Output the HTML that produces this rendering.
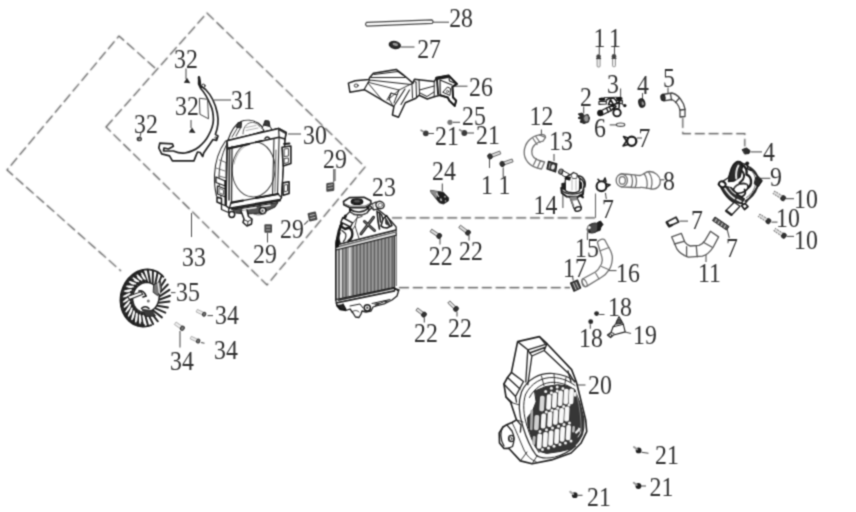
<!DOCTYPE html>
<html><head><meta charset="utf-8"><title>Cooling system parts diagram</title>
<style>
html,body{margin:0;padding:0;background:#fff;}
body{width:856px;height:512px;overflow:hidden;font-family:"Liberation Serif",serif;}
svg{display:block}
text{font-family:"Liberation Serif",serif;font-size:28px;fill:#303030;stroke:none;}
.d{stroke:#484848;stroke-width:1.15;stroke-dasharray:10 3.8;fill:none}
.l{stroke:#4a4a4a;stroke-width:1.05;fill:none}
.p{stroke:#1e1e1e;stroke-width:1.3;fill:none;stroke-linejoin:round;stroke-linecap:round}
.pw{stroke:#1e1e1e;stroke-width:1.3;fill:#fff;stroke-linejoin:round;stroke-linecap:round}
.t{stroke:#444;stroke-width:0.7;fill:none;stroke-linejoin:round;stroke-linecap:round}
.k{fill:#222;stroke:none}
</style></head><body>
<svg width="856" height="512" viewBox="0 0 856 512">
<defs><filter id="bd" x="0" y="0" width="856" height="512" filterUnits="userSpaceOnUse" color-interpolation-filters="sRGB"><feConvolveMatrix order="3" kernelMatrix="0.0169 0.0962 0.0169 0.0962 0.5476 0.0962 0.0169 0.0962 0.0169" divisor="1" edgeMode="duplicate" preserveAlpha="false"/></filter><filter id="b" x="0" y="0" width="856" height="512" filterUnits="userSpaceOnUse" color-interpolation-filters="sRGB"><feConvolveMatrix order="3" kernelMatrix="0.0400 0.1200 0.0400 0.1200 0.3600 0.1200 0.0400 0.1200 0.0400" divisor="1" edgeMode="duplicate" preserveAlpha="false"/></filter></defs>
<rect width="856" height="512" fill="#fff"/>
<g filter="url(#b)">

<g class="d" filter="url(#bd)">
<path d="M106,127 L207,13 L365,167 L267,285 Z"/>
<path d="M155,68 L119,36 L7,170 L121,271"/>
<path d="M392,217.8 H595"/>
<path d="M399,287.6 H570"/>
<path d="M682.8,118 V133.6 H744.8 V146.5"/>
</g>
<!-- ===== leader lines ===== -->
<g class="l">
<path d="M186,68.5V79"/><path d="M191,120V128"/><path d="M141,132L140,137"/>
<path d="M231,100H214"/>
<path d="M301,134H288"/>
<path d="M335,169V181"/>
<path d="M191.5,213V237"/>
</g>
<!-- ===== 32 screws ===== -->
<g class="k">
<path d="M183.8,82.8 L187,77.8 L190.4,83.2 Z" fill="#2a2a2a"/>
<path d="M188.8,132.6 L192,127.5 L195.6,133 Z" fill="#2a2a2a"/>
<ellipse cx="139.3" cy="139" rx="2.7" ry="2.3" fill="#3a3a3a"/>
<ellipse cx="139.6" cy="139.2" rx="1.1" ry="0.9" fill="#aaa"/>
</g>
<!-- ===== 31 bracket ===== -->
<g class="p" style="stroke-width:1.7;stroke:#222">
<path d="M198.8,76.8 L200.3,85.6 L205.6,89.5 C211,95 215.4,104 217.3,113 C218.8,121 218,128 215.4,134.4 L218,136 L216.5,140.5 L213,139.5 C211,142 210,144 208.5,146 L203.7,153 L202.7,156.5 L200.2,152.5 L197.5,152 L195.9,155.9 L193.9,160.9 L172.4,160.9 L169.5,155.9 L161.7,153.9 L158.8,148 L159.8,143.2 L172.4,143.8 L173.4,146.3 L168.5,149 L164,148 L163.5,151 L173.4,151 C178,153 182,153.5 185,153 C190,152 195,150 198.8,147 C203,143.5 206.5,139.5 208.5,135.4 C211.5,130 213.4,125 213.4,119.8 C213.4,114 212.5,109 210.5,105 C208,99 205,93 200.7,88.5 L198.6,84 Z"/>
<path d="M199,77.5 L200,84.5" style="stroke-width:2.6"/>
<path d="M199.8,98.3 L207.6,99.3 L208.5,118.8 L200.3,114.5 Z" style="stroke-width:1;stroke:#444"/>
<circle cx="203.4" cy="85.8" r="1.7" style="stroke-width:1"/>
<circle cx="215.8" cy="137.8" r="1" style="stroke-width:0.8"/>
</g>
<!-- ===== 30 fan shroud ===== -->
<g class="p" style="stroke-width:1.2;stroke:#2a2a2a">
<!-- back housing left arcs -->
<path d="M225.5,141 C219,150 215,163 214.5,175 C214.2,184 215,190 216.5,196" style="stroke-width:1.1"/>
<path d="M229,140 C223,150 219.5,163 219,176 C218.8,184 219.5,191 221,197" style="stroke-width:1"/>
<path d="M216,168 L225,171 M215,180 L224,182.5" style="stroke-width:0.9;stroke:#666"/>
<path d="M219.5,160 L226,162.5 L226,178 L219,176" style="stroke-width:0.9;stroke:#555"/>
<!-- dome -->
<path class="pw" d="M228,140 C231,131 236,124 241,121.5 C246,119.5 253,120 258,123 C261,125 263,128 264,131 L229,141.5 Z" style="stroke-width:1.1"/>
<path d="M243,134 C243,128 246,123.5 251,122.5 C255,122 258,124 260,127" style="stroke-width:0.9;stroke:#555"/>
<path d="M246,127.5 L256,125.5 M246,130.5 L258,128" style="stroke-width:0.8;stroke:#999"/>
<path d="M232,137 L238,127 M236,136 L241,127" style="stroke-width:0.9"/>
<!-- top lugs dark -->
<path d="M236.5,127 L238,122.5 L241.5,122.5 L241,127.5 Z" fill="#3a3a3a" stroke="#222" stroke-width="1"/>
<path d="M263.5,125 L265,120.5 L269,121 L270,126.5 L266,127.5 Z" fill="#3a3a3a" stroke="#222" stroke-width="1"/>
<path class="pw" d="M262,128.5 L263.5,125 L270,126.5 L272,129.5" style="stroke-width:1"/>
<!-- frame body -->
<path class="pw" d="M227,140.7 L278.6,128.4 L286.2,132.5 L285,139 L281.5,197.5 L280.3,199.3 L229.3,208.1 L226,206 Z" style="stroke-width:1.3"/>
<!-- circle opening -->
<ellipse cx="253.6" cy="169.3" rx="21.4" ry="27.6" transform="rotate(3 253.6 169.3)" style="stroke-width:1;stroke:#444"/>
<path d="M234,164 C236,154 242,146 251,143.5" style="stroke-width:0.8;stroke:#999"/>
<!-- top bar -->
<path class="pw" d="M227,140.7 L278.6,128.4 L286.2,132.5 L285,139 L279.1,137.2 L227.6,148.4 Z" style="stroke-width:1.5"/>
<path d="M278.6,128.4 L279.1,137.2 M279.5,130 L285.5,133.5" style="stroke-width:1.2"/>
<path d="M227.6,148.6 L249,144" style="stroke-width:2.2;stroke:#1a1a1a"/>
<path d="M256,142 L262,140.8 M265,138.5 C266,136.5 268.5,136.5 269.5,138.3" style="stroke-width:1.5;stroke:#1a1a1a"/>
<!-- left column -->
<path d="M232,146.5 L231.5,203 M227.3,147 L226,206" style="stroke-width:1.3"/>
<path d="M229.5,149 L229,200" style="stroke-width:1.6;stroke:#333"/>
<!-- right column -->
<path d="M274,138.5 L272.5,195.5 M279.1,137.2 L277.5,194.5 M285,139 L281.5,197.5" style="stroke-width:1.1"/>
<path d="M276,150 L275,192" style="stroke-width:1.2;stroke:#777"/>
<!-- bottom bar -->
<path class="pw" d="M231.1,202.8 L278,194 L281.5,197.5 L280.3,199.3 L229.3,208.1 Z" style="stroke-width:1.3"/>
<path d="M231.5,202.6 L243,200.5 M256,198 L278,194" style="stroke-width:2.2;stroke:#1a1a1a"/>
<path d="M232,209 L280,200.5" style="stroke-width:2;stroke:#222"/>
<!-- right lugs -->
<path class="pw" d="M282,147.2 L290.9,146 L290.9,163.6 L283.2,165.9 Z" style="stroke-width:1.6;stroke:#1a1a1a"/>
<path d="M284.5,149 L288.5,148.5 L288.5,156 L284.5,156.5 Z M284.5,158.5 L288.5,158 L288.5,162.5 L284.5,163.5 Z" style="stroke-width:1;stroke:#444"/>
<path class="pw" d="M282.7,182.9 L289.1,181.7 L289.1,193.4 L283.2,195.2 Z" style="stroke-width:1.6;stroke:#1a1a1a"/>
<path d="M284.5,185 L287.5,184.5 L287.5,191 L284.5,191.8 Z" style="stroke-width:1;stroke:#444"/>
<path d="M284,144 L289.5,143.5" style="stroke-width:1.8;stroke:#1a1a1a"/>
<!-- left lower lugs -->
<path class="pw" d="M216,177 L225.2,181 L225.2,186 L216,182.5 Z" style="stroke-width:1.3"/>
<path class="pw" d="M217.5,186 L225.5,189 L225.5,197 L217.5,194 Z" style="stroke-width:1.3"/>
<path d="M219.5,188.5 L223.5,190 L223.5,194.5 L219.5,193 Z" style="stroke-width:0.9;stroke:#555"/>
<path class="pw" d="M217,197 L221.5,198.5 L221.5,204 L217,202 Z" style="stroke-width:1.5;stroke:#1a1a1a"/>
<path class="pw" d="M221.5,204 L226,206 L229,208.2 L228.5,212.5 L221.5,209.5 Z" style="stroke-width:1.3"/>
<path d="M225.5,181 L225.5,205" style="stroke-width:2;stroke:#1a1a1a"/>
<!-- bottom feet -->
<path d="M233,210 L278,202.5 L275,207 L262,213 L246,214 L236,213 Z" fill="#555" stroke="#222" stroke-width="1"/>
<path d="M243,209.5 L256,207.5 M262,206.5 L270,205.2" stroke="#eee" stroke-width="1.6"/>
<circle cx="231.8" cy="214.5" r="2.9" class="pw" style="stroke-width:1.5;stroke:#1a1a1a"/>
<circle cx="262.7" cy="210.6" r="3.2" class="pw" style="stroke-width:1.5;stroke:#1a1a1a"/>
<circle cx="262.5" cy="210.8" r="1.2" fill="#555" stroke="none"/>
<path class="pw" d="M241,211 L244,219 L243,222.5 L247,226 L251.5,224 L252,219 L248.5,216.5 L247,210" style="stroke-width:1.5;stroke:#1a1a1a"/>
<path d="M243.5,219.5 L248,221.5 L251.5,219.5 M248,221.5 L247.5,225.5" style="stroke-width:1;stroke:#333"/>
<path d="M252,213 C256,216 264,216 268,210" style="stroke-width:0.9;stroke:#555"/>
</g>
<!-- ===== 29 nuts ===== -->
<g>
<g transform="translate(330.3,187)"><rect x="-4" y="-4.3" width="8" height="8.6" rx="1" fill="#484848" transform="skewY(-8)"/><path d="M-2.5,-1.5 L2.5,-2.3 M-2.5,1.5 L2.5,0.7" stroke="#ccc" stroke-width="0.9"/></g>
<g transform="translate(312.5,216.5) rotate(-12)"><rect x="-4.3" y="-4.3" width="8.6" height="8.6" rx="1" fill="#484848"/><path d="M-2.5,-1.5 L2.5,-1.5 M-2.5,1.5 L2.5,1.5" stroke="#ccc" stroke-width="0.9"/></g>
<g transform="translate(268.2,228.5)"><rect x="-3.8" y="-4.3" width="7.6" height="8.6" rx="1" fill="#484848"/><path d="M-2.2,-1.5 L2.2,-1.5 M-2.2,1.5 L2.2,1.5" stroke="#ccc" stroke-width="0.9"/></g>
</g>
<g class="l">
<path d="M333.8,169V182"/><path d="M308.3,220.6L304.2,224.7"/><path d="M267.5,233V242.5"/>
<path d="M171,292.6H175.5"/>
<path d="M207.5,315.6H213"/><path d="M180,331V347.5"/><path d="M201,342.5L204.5,343.2"/>
</g>
<!-- ===== 34 screws ===== -->
<g class="p" style="stroke-width:1">
<g transform="translate(203,313.6) rotate(25)"><rect x="-6.5" y="-1.4" width="7" height="2.8" fill="#eee" stroke="#999" stroke-width="0.7"/><ellipse cx="1.3" cy="0" rx="1.6" ry="2" fill="#777" stroke="#333"/></g>
<g transform="translate(181.3,327.5) rotate(35)"><rect x="-7" y="-1.5" width="7" height="3" fill="#eee" stroke="#999" stroke-width="0.7"/><ellipse cx="1.3" cy="0" rx="1.8" ry="2.2" fill="#777" stroke="#333"/></g>
<g transform="translate(197,340.5) rotate(25)"><rect x="-6.5" y="-1.4" width="7" height="2.8" fill="#eee" stroke="#999" stroke-width="0.7"/><ellipse cx="1.3" cy="0" rx="1.6" ry="2" fill="#777" stroke="#333"/></g>
</g>
<!-- ===== 28 rod, 27 nut ===== -->
<g class="p">
<path class="pw" d="M366.5,22.4 L432,19.9 Q434,21.6 432.2,23.4 L366.7,26.1 Q364.6,24.3 366.5,22.4 Z" style="stroke:#444;stroke-width:1.2"/>
<ellipse cx="394.8" cy="45" rx="5.6" ry="3.4" fill="#2c2c2c" stroke="#222" transform="rotate(12 394.8 45)"/>
<ellipse cx="395.3" cy="44.3" rx="2.8" ry="1.4" fill="#999" stroke="none" transform="rotate(12 395 44.3)"/>
</g>
<g class="l"><path d="M433,22.2H449"/><path d="M400.5,47H414.5"/><path d="M455,86.2H467.5"/><path d="M453,122.3H460"/>
<path d="M428.5,133.5H434"/><path d="M467,133H474"/></g>
<!-- ===== 26 bracket ===== -->
<g class="p" style="stroke-width:1.2">
<path class="pw" style="stroke-width:1.5" d="M348.4,83.1 L349.9,92.2 L364.3,89.7 L385.6,102.1 L393.9,106.6 L392.4,115 L398.5,117.3 L405.3,102.8 L415.9,98.3 L419,95.2 L427.3,99 L434.2,96.8 L440.2,95.2 L447.8,97.5 L449.3,100.6 L454.7,105.9 L456.2,100.6 L453.1,97.5 L452.4,86.9 L456.9,83.9 L448.6,75.5 L436.4,77.8 L434.2,81.6 L414.4,79.3 L412.9,83.1 L406.8,77.8 L403,74.7 L396.2,69.4 L373.4,73.2 L369.6,77.8 L368.9,79.5 L355.2,80.8 Z"/>
<ellipse cx="356.2" cy="85.6" rx="2" ry="1.6" style="stroke-width:0.9"/>
<path d="M369.6,80 L364.3,89.2 M369.6,80 L411,84.5 M371,77.5 L405,77.5 M374,74.5 L398,71.5 L403,75" />
<path d="M368,83 L383,101 M369,82.5 L399,90 L412.9,83.1 M399,90 L389,99 L393,106" style="stroke-width:0.9"/>
<path d="M387,100 L391,93 L397,95 L399,90 M391,93 L389,100 M397,95 L394,103" style="stroke-width:1"/>
<path d="M405,89 L394,106 M409.5,90 L401,104.5" style="stroke-width:1.1"/>
<path d="M412,84 L412.5,98 M416,82 L416.5,97 M412,84 C413,81.5 415,81 416,82" style="stroke-width:1"/>
<path d="M419,80 L419.5,95 M434.2,81.6 L434.2,96.8 M420,93 L427,96.5 L434,92 M419.5,90 L434.2,86" style="stroke-width:1"/>
<path d="M437,79 L438,94 M440,80 L452,85 M440,80 L440.2,95.2 M448.6,75.5 L449.5,81 L456.9,83.9" style="stroke-width:1.2"/>
<path d="M443,92 L447.5,87 L450.5,88.5 L450,95 Z" style="stroke-width:1"/>
<circle cx="447.5" cy="91.5" r="1.1" style="stroke-width:0.8"/>
<path d="M436.4,77.8 L448.6,75.5 L456.9,83.9 L452.4,86.9 L453.1,97.5 L456.2,100.6 L454.7,105.9 L449.3,100.6 L447.8,97.5 L440.2,95.2" style="stroke-width:2;stroke:#1a1a1a"/>
<path d="M436.4,77.8 L437,79 L448,77 M437,79 L438,94" style="stroke-width:1.8;stroke:#1a1a1a"/>
</g>
<!-- ===== 25, 21 bolts ===== -->
<g>
<circle cx="450" cy="122.3" r="2.6" fill="#777"/>
<circle cx="425.8" cy="133.3" r="2.9" fill="#3a3a3a"/><path d="M420.5,130 L424,132" stroke="#888" stroke-width="1.6"/>
<circle cx="464.3" cy="133" r="2.9" fill="#3a3a3a"/><path d="M459,129.5 L462.5,131.5" stroke="#888" stroke-width="1.6"/>
</g>
<!-- ===== 24 sensor ===== -->
<g class="l"><path d="M442.3,183.5V191.5"/>
<path d="M489.5,159V168"/><path d="M503.2,167.5V177"/>
<path d="M440,238V244.5"/><path d="M469,235V240.5"/><path d="M424.3,317.5V322.5"/><path d="M457,311.5V316.5"/>
</g>
<g>
<path d="M430.5,190.3 L443.4,192.3 L448.7,198 L448.3,201 L443.4,204 L439.3,202.8 L431.1,192.5 Z" fill="#1e1e1e" stroke="#222" stroke-width="0.8" stroke-linejoin="round"/>
<path d="M430.5,190.3 L438,191.5 L436.5,198.5 L431.1,192.5 Z" fill="#8a8a8a" stroke="none"/>
<path d="M436.5,193 L438.8,197" stroke="#ccc" stroke-width="1.5"/>
<path d="M440.5,198.5 L441.5,201" stroke="#bbb" stroke-width="1.8"/>
<path d="M444.5,196 L445.5,197.5 M445,200.5 L446,201.5" stroke="#aaa" stroke-width="1.4"/>
</g>
<!-- ===== bolts 1 ===== -->
<g>
<g transform="translate(490,156.4) rotate(-21)"><rect x="1" y="-1.5" width="10" height="3" fill="#ddd" stroke="#555" stroke-width="0.8"/><ellipse cx="0" cy="0" rx="2.2" ry="2.7" fill="#333" stroke="#222" stroke-width="0.8"/></g>
<g transform="translate(502.2,164) rotate(-19)"><rect x="1" y="-1.5" width="10" height="3" fill="#ddd" stroke="#555" stroke-width="0.8"/><ellipse cx="0" cy="0" rx="2.2" ry="2.7" fill="#333" stroke="#222" stroke-width="0.8"/></g>
</g>
<!-- ===== bolts 22 ===== -->
<g>
<g transform="translate(439.2,236) rotate(214)"><rect x="1" y="-1.5" width="9" height="3" fill="#ddd" stroke="#555" stroke-width="0.8"/><ellipse cx="0" cy="0" rx="2.2" ry="2.7" fill="#333" stroke="#222" stroke-width="0.8"/></g>
<g transform="translate(468,232.7) rotate(217)"><rect x="1" y="-1.5" width="9.5" height="3" fill="#ddd" stroke="#555" stroke-width="0.8"/><ellipse cx="0" cy="0" rx="2.2" ry="2.7" fill="#333" stroke="#222" stroke-width="0.8"/></g>
<g transform="translate(424,314.6) rotate(217)"><rect x="1" y="-1.5" width="8" height="3" fill="#ddd" stroke="#555" stroke-width="0.8"/><ellipse cx="0" cy="0" rx="2.2" ry="2.7" fill="#333" stroke="#222" stroke-width="0.8"/></g>
<g transform="translate(456,308.9) rotate(224)"><rect x="1" y="-1.5" width="9" height="3" fill="#ddd" stroke="#555" stroke-width="0.8"/><ellipse cx="0" cy="0" rx="2.2" ry="2.7" fill="#333" stroke="#222" stroke-width="0.8"/></g>
</g>
<!-- ===== hose 12, clamp 13, pump 14, clamps 7, hose 8 ===== -->
<g class="l">
<path d="M541.4,129.5V136"/><path d="M554,154V161"/><path d="M562.9,193.5V208"/>
<path d="M595.5,217.8V193.5" style="stroke:#666;stroke-width:1.1"/><path d="M605.4,192.8L606.3,199"/>
<path d="M659.5,179.8H664.5"/>
<path d="M583.7,106.5V113.4"/><path d="M620.6,88.5V97"/><path d="M642.5,93V99.5"/><path d="M668,87.5V94"/>
<path d="M609.7,124.9H616.5"/><path d="M637,138H642"/>
<path d="M599.3,47V54.5M614.5,47V54.2"/>
</g>
<g class="p" style="stroke:#707070;stroke-width:1.25">
<!-- hose 12 -->
<path class="pw" style="stroke:#707070" d="M539.5,134.8 C531,136 524.5,143 524.2,152 C524,160 530,166.5 538.5,168.3 L541.5,169 L544.6,162 L541,161 C535,159.5 531.5,156.5 531.8,151.5 C532,146 536.5,142 543,141.2 L545.5,137.5 Z"/>
<path d="M539.5,134.8 C543,133.5 546,135.5 545.5,137.5 M533,138.5 L537,144.5 M535.8,136.5 L540,142.5 M533.5,165 L536.5,158.8 M537.5,167.8 L540.5,160.8"/>
</g>
<g class="p">
<!-- clamp 13 -->
<path d="M548.5,161.3 L556.8,163.8 L555.6,172 L547,168.8 Z" fill="#3a3a3a" stroke="#1e1e1e" stroke-width="1.3"/>
<ellipse cx="553" cy="167" rx="1.8" ry="2.6" fill="#eee" stroke="none" transform="rotate(15 553 167)"/>
<path d="M550,163.5 L549,168.5" stroke="#bbb" stroke-width="0.9"/>
<!-- pump 14 -->
<ellipse cx="561" cy="171.6" rx="2.3" ry="2.6" fill="#888" stroke="#333" stroke-width="1" transform="rotate(25 561 171.6)"/>
<path class="pw" d="M563.3,170.8 L569.5,174.2 L567.5,178.5 L562,175 Z" style="stroke-width:1"/>
<path class="pw" d="M565.2,181 C565.2,177.5 568,175 571,174.5 L573.5,172.5 L577,174 L577.5,176 C579.5,177.5 580.2,179.5 579.8,181.5 L579.5,190.5 C577,193.5 568.5,193.5 565.2,190.5 Z" style="stroke-width:1.3;stroke:#222"/>
<path d="M565.5,178.5 L569.5,179.5 M566,177 L570,177.8" style="stroke-width:2;stroke:#1a1a1a"/>
<path d="M571,175 L572.5,178.5 L576.5,178.5 L577.3,175.5" style="stroke-width:1;stroke:#555"/>
<path d="M572,180 L572,190 M576,180 L576,190" style="stroke-width:0.9;stroke:#aaa"/>
<path d="M580,178.5 C583.5,180 585,184 583.5,188 M578.5,175.8 C583.5,176.5 586.5,181.5 584.8,187" style="stroke-width:1.4;stroke:#222"/>
<path d="M579.5,181.5 L581.5,183 L581.5,188 L579.5,189" fill="#222" style="stroke-width:1.2;stroke:#1a1a1a"/>
<path d="M562,183.5 L565,183 L565,189.5 L562,189 Z" fill="#222" style="stroke-width:1.2;stroke:#1a1a1a"/>
<path d="M561.2,188 L561.8,193 L566.5,196.5 L577.5,197 L583,194 L583.5,189" style="stroke-width:2;stroke:#1e1e1e" fill="none"/>
<path d="M562.5,191 C567,195 578,195 583,191" style="stroke-width:1.5;stroke:#2a2a2a"/>
<path d="M580,195.5 L583,197.5 L582,194.5" style="stroke-width:1.8;stroke:#1a1a1a"/>
<path d="M569.8,197 L574,208.5 C575.5,211.5 580.5,210.5 581.5,207.5 L576.5,196.5 Z" fill="#fff" style="stroke-width:1.3;stroke:#2a2a2a"/>
<path d="M569.8,197 L576.5,196.5 L577.5,200 L571,201 Z" fill="#888" stroke="none"/>
<path d="M571,199.5 L573.5,206" style="stroke-width:1.6;stroke:#777"/>
<ellipse cx="578" cy="209" rx="3.3" ry="2.1" transform="rotate(-18 578 209)" fill="#fff" style="stroke-width:1.5;stroke:#222"/>
<!-- clamp 7 (lower) -->
<circle cx="601.5" cy="186.2" r="4.9" style="stroke-width:2.1;stroke:#1c1c1c"/>
<path d="M603.5,181.2 L605,178 L606,181.8 M606.2,184 L610,184.8 L606.5,187.2 M599.5,181 L598,179.3" style="stroke-width:1.6;stroke:#1c1c1c"/>
<!-- hose 8 -->
</g>
<g class="p" style="stroke:#6c6c6c;stroke-width:1.25">
<path class="pw" style="stroke:#6c6c6c" d="M621,174 C630,174 636,175.5 640,175.5 C643,175.5 645,171.5 649.5,171.5 C655,171.5 660,176 660.3,181 C660.5,186 657,189.5 652,189 C647,188.5 644,187 640,187.5 C634,188 628,187 621,186.8 Z"/>
<ellipse class="pw" style="stroke:#6c6c6c" cx="621.8" cy="180.4" rx="5.6" ry="6.4"/>
<ellipse cx="622.3" cy="180.4" rx="3" ry="3.8"/>
<path d="M631,174.8 C633,178 633,184 631,187.3 M635,175.2 C637,178.5 637,184 635,187.6 M644,173.5 C647,177 648,184 646.5,188 M648.5,171.8 C652,176 653,183 651,188.8"/>
</g>
<!-- ===== 2,3,4,6,7 thermostat group ===== -->
<g class="p">
<path d="M578.5,114 L582,113 L584,115.5 L588,114.5 L589.5,118 L588.5,122 L584,123.5 L580,122 L581.5,119.5 L578,118 L580.5,116.5 Z" fill="#2a2a2a" stroke="#222" stroke-width="1"/>
<ellipse cx="586.3" cy="118.5" rx="2.6" ry="3.4" fill="#999" stroke="#444" stroke-width="0.8"/>
<!-- part 3 -->
<ellipse cx="602" cy="99.2" rx="3.3" ry="1.6" fill="#111" stroke="none"/>
<ellipse cx="619.2" cy="98.4" rx="3.3" ry="1.6" fill="#111" stroke="none"/>
<path d="M604,97.6 L617,97.2" style="stroke-width:1;stroke:#333"/>
<path d="M599,101.5 L606.3,101.2 L606.3,104 L599,104.3 Z" fill="#fff" style="stroke-width:1.2;stroke:#222"/>
<path d="M616.3,100.6 L622.3,100.3 L622.3,103.4 L616.6,103.7 Z" fill="#fff" style="stroke-width:1.2;stroke:#222"/>
<path d="M606.5,100 L609.5,98.2 L613.5,98 L616,100.5" style="stroke-width:1.5;stroke:#1a1a1a"/>
<path d="M608.5,104.5 L610.5,99.5 L613.5,104.8 Z" fill="#fff" style="stroke-width:1.7;stroke:#1a1a1a"/>
<path d="M613.5,104.8 L616.5,103.5 L619.5,101.8" style="stroke-width:1.6;stroke:#1a1a1a"/>
<path d="M619.5,101 L619,108" style="stroke-width:1.5;stroke:#1a1a1a"/>
<path d="M612.8,105.2 L600.4,111 L602.3,115 L614.8,108.6 Z" fill="#fff" style="stroke-width:1.3;stroke:#1a1a1a"/>
<path d="M606.5,108.2 L608.3,112 M609.3,106.8 L611.2,110.6" style="stroke-width:1.5;stroke:#222"/>
<path d="M613,104.5 L616,106.5 L612.5,109" style="stroke-width:1.6;stroke:#1a1a1a"/>
<ellipse cx="600.2" cy="113" rx="2.7" ry="2.9" fill="#1a1a1a" stroke="#111" stroke-width="0.8"/>
<circle cx="617" cy="112.7" r="3.7" fill="#fff" style="stroke-width:1.9;stroke:#161616"/>
<circle cx="624.8" cy="105.6" r="1.7" fill="#1a1a1a" stroke="none"/>
<path d="M621.5,103.5 L623.5,105" style="stroke-width:1.2;stroke:#444"/>
<!-- part 4 plug -->
<ellipse cx="641.8" cy="103" rx="2.9" ry="4.2" fill="#333" stroke="#1a1a1a" stroke-width="1.2" transform="rotate(-15 641.8 103)"/>
<ellipse cx="642.8" cy="103.4" rx="1.1" ry="2" fill="#999" stroke="none" transform="rotate(-15 642.8 103.4)"/>
<!-- o-ring 6 -->
<ellipse cx="620.6" cy="124.7" rx="4.2" ry="1.7" style="stroke-width:1.1;stroke:#444"/>
<!-- clamp 7 (upper) -->
<circle cx="631.7" cy="141.2" r="4.6" style="stroke-width:2.3;stroke:#1a1a1a"/>
<path d="M628,138 L623.5,136.5 L626.5,141 L623,146 L628,144.5" style="stroke-width:1.5;stroke:#1a1a1a"/>
</g>
<!-- ===== bolts 11 (top) ===== -->
<g>
<g transform="translate(598.6,56)"><rect x="-1.5" y="2" width="3" height="9" rx="1" fill="#eee" stroke="#777" stroke-width="0.8"/><ellipse cx="0" cy="0.5" rx="2.3" ry="2.2" fill="#444"/><path d="M-2.5,2.6H2.5" stroke="#333" stroke-width="1"/></g>
<g transform="translate(614,55.7)"><rect x="-1.5" y="2" width="3" height="9" rx="1" fill="#eee" stroke="#777" stroke-width="0.8"/><ellipse cx="0" cy="0.5" rx="2.3" ry="2.2" fill="#444"/><path d="M-2.5,2.6H2.5" stroke="#333" stroke-width="1"/></g>
</g>
<!-- ===== hose 5 ===== -->
<g class="p" style="stroke:#444;stroke-width:1.3">
<path class="pw" style="stroke:#444" d="M662.5,94.5 L672,93 C677,94 681,99 683.5,104 L685,109 L685,116.5 L680,117 L680,110 C679,106 676,101.5 672,99.5 L664,100.8 Z"/>
<ellipse cx="663" cy="97.6" rx="2" ry="3.1" fill="#333" stroke="#222" transform="rotate(-10 663 97.6)"/>
<path d="M670.5,93.5 L671.5,99.8 M679.5,98 L675.5,102.5 M680,110 L685,109.5"/>
</g>
<!-- ===== right group: 4, 9, 10, 7, 11 ===== -->
<g class="l">
<path d="M750.4,151.9H762"/><path d="M759.7,178.3H770.3"/>
<path d="M785.5,198.7H794"/><path d="M771.4,222.1H777.5"/><path d="M786.7,236.4H794"/>
<path d="M727,228.7L729.3,238"/><path d="M679.6,221.1H688"/><path d="M706,252V262"/>
</g>
<g class="p">
<!-- plug 4 -->
<path d="M742.5,149.5 L746.5,148 L750,150.5 L749,153.5 L745,154 Z" fill="#2c2c2c" stroke="#222" stroke-width="1"/>
<!-- pump 9 -->
<path class="pw" d="M737.3,161.6 L747,165 L762,180.8 L744.5,204.7 L733,199.5 L718.2,184.2 L728,178 Z" style="stroke-width:1.4;stroke:#222"/>
<!-- upper-left dark arch -->
<path d="M728.5,181.5 C729,172 732.5,163 737.5,161.5 C741,161 743,163.5 742.5,166.5 L740,177 L734,181 Z" fill="#2a2a2a" stroke="#1a1a1a" stroke-width="1.4"/>
<path d="M738.5,165.5 C736.5,169 735.8,174 736.3,178.5" stroke="#e8e8e8" stroke-width="2" fill="none"/>
<!-- central swirl -->
<path d="M741.5,165 C745.5,166 747.5,170 746.5,174.5 C749.5,175.5 751.5,179 751,183 C750.5,186 748.5,188 746,188.5" style="stroke-width:2.4;stroke:#1a1a1a"/>
<path d="M742,171 C744,173 744.5,176.5 743,179.5 L739.5,183" style="stroke-width:2;stroke:#222"/>
<circle cx="747.2" cy="163.3" r="1.9" fill="#1a1a1a" stroke="none"/>
<path d="M747.2,165 L747.8,169 L751.5,170.5" style="stroke-width:1.6;stroke:#1a1a1a"/>
<!-- right ring arcs -->
<path d="M750,167.5 C757,172 760,180 757,187.5 C755,193.5 750,198.5 745.5,201" style="stroke-width:2;stroke:#2a2a2a"/>
<path d="M752.5,172 C756.5,177 756.8,184 753.5,190 C751.5,193.5 749,196 746.5,197.5" style="stroke-width:1;stroke:#666"/>
<path d="M756,177.5 L761.8,180.8 L758.5,186.5 L754.5,184 Z" fill="#2a2a2a" stroke="#1a1a1a" stroke-width="1"/>
<!-- volute -->
<ellipse cx="740.8" cy="188.3" rx="7.6" ry="4.5" transform="rotate(-20 740.8 188.3)" fill="#fff" style="stroke-width:1.6;stroke:#1a1a1a"/>
<path d="M734.5,187.5 C737,184.5 742.5,183 746.5,184.5" style="stroke-width:1;stroke:#555"/>
<path d="M744.5,189.5 C746,192 745.5,194.5 743,196 C741,197 738.5,196.5 737,195" style="stroke-width:1.8;stroke:#1a1a1a"/>
<!-- left ear -->
<ellipse cx="722.3" cy="184.3" rx="3.5" ry="2.8" transform="rotate(25 722.3 184.3)" fill="#fff" style="stroke-width:2;stroke:#1a1a1a"/>
<!-- lower-left dark mass -->
<path d="M721,188 C724,194 728.5,199.5 733.5,202.5 L741.5,203.5 L744.5,199 L738,194.5 L731,187.5 L726,186.5 Z" fill="#2e2e2e" stroke="#1a1a1a" stroke-width="1.2"/>
<path d="M725,188.5 C727.5,192.5 730.5,196 734.5,198.5" stroke="#eee" stroke-width="1.6" fill="none"/>
<path d="M729.5,188 C731,190.5 733,192.5 735.5,194" stroke="#ddd" stroke-width="1.1" fill="none"/>
<path d="M737,199.5 L741,201.5" stroke="#eee" stroke-width="1.5" fill="none"/>
<!-- outlet -->
<path class="pw" d="M734.3,202.2 L740,206.2 L731.7,215 L725.8,210.6 Z" style="stroke-width:1.3;stroke:#222"/>
<path d="M726.3,211 L731.3,214.7" style="stroke-width:2.4;stroke:#222"/>
<path d="M741.5,205.5 L745,203.5 L748,206.5 L744.5,209.5 Z" fill="#fff" style="stroke-width:1.7;stroke:#1a1a1a"/>
</g>
<!-- bolts 10 -->
<g>
<g transform="translate(783.2,198.2) rotate(212)"><rect x="1" y="-1.5" width="10" height="3" fill="#ddd" stroke="#555" stroke-width="0.8" stroke-dasharray="2 1"/><ellipse cx="0" cy="0" rx="2.2" ry="2.7" fill="#333" stroke="#222" stroke-width="0.8"/></g>
<g transform="translate(768.4,221.2) rotate(212)"><rect x="1" y="-1.5" width="10" height="3" fill="#ddd" stroke="#555" stroke-width="0.8" stroke-dasharray="2 1"/><ellipse cx="0" cy="0" rx="2.2" ry="2.7" fill="#333" stroke="#222" stroke-width="0.8"/></g>
<g transform="translate(783.9,235.7) rotate(213)"><rect x="1" y="-1.5" width="10" height="3" fill="#ddd" stroke="#555" stroke-width="0.8" stroke-dasharray="2 1"/><ellipse cx="0" cy="0" rx="2.2" ry="2.7" fill="#333" stroke="#222" stroke-width="0.8"/></g>
</g>
<!-- spring 7 -->
<g>
<path d="M715,217 L729,226.5 L726.5,230 L712.5,220.5 Z" fill="#555" stroke="#222" stroke-width="1" stroke-linejoin="round"/>
<path d="M716.5,219 L715,222 M719.5,221 L718,224 M722.5,223 L721,226 M725.5,225 L724,228" stroke="#ddd" stroke-width="0.9"/>
</g>
<!-- clip 7 -->
<g class="p">
<path d="M666.6,222 L676,217.3 L678.6,222 L669.2,226.3 Z" fill="#fff" style="stroke-width:1.8;stroke:#2a2a2a"/>
<path d="M666.8,222.5 L669.2,226.3 L672,225" style="stroke-width:2.4;stroke:#222"/>
</g>
<!-- hose 11 -->
<g class="p" style="stroke:#555;stroke-width:1.3">
<path class="pw" style="stroke:#555" d="M671.7,236.9 L681.4,233.4 L684.9,242.2 C686.5,244.5 688,245.5 690.2,246 L699,245.4 C702,244.5 703.5,243 705.1,240.4 L710.4,231.3 L718.6,236.9 L713,247.5 C710,252 706.5,255 702.5,256.2 L688.4,257.1 C683.5,255.5 679.5,253 677,249.2 Z"/>
<path d="M674.3,244 L684,241.3 M686.6,246.6 L686.6,256.5 M696.3,246 L697.2,256.8 M703.3,242.2 L712.2,247.2"/>
</g>
<!-- ===== 15,16,17,18,19 ===== -->
<g class="l">
<path d="M587.4,232.4V240"/><path d="M608.2,270.6H616.5"/><path d="M572.4,275.6L573.3,280.6"/>
<path d="M599.2,314.5H604.5"/><path d="M590.3,324.3V328.7"/><path d="M625.2,332L631,333.5"/>
<path d="M577,385H585.5"/>
<path d="M641.5,452.3L648.5,453.2"/><path d="M641,486H646"/><path d="M578,495.3H582.5"/>
</g>
<g class="p">
<!-- sensor 15 -->
<ellipse cx="593.5" cy="228" rx="6.6" ry="4.6" transform="rotate(-22 593.5 228)" fill="#4a4a4a" stroke="#2a2a2a" stroke-width="1"/>
<path d="M597.5,222.5 L600.5,221 L603,224.5 L601,227 L600,230.5 L597,231" fill="#1e1e1e" stroke="#1e1e1e" stroke-width="1" />
<circle cx="589.2" cy="227.6" r="1.5" fill="#f4f4f4" stroke="none"/>
<circle cx="589" cy="231.8" r="1.5" fill="#1a1a1a" stroke="none"/>
<path d="M588,226 C587.5,228 587.5,231 588.5,233" stroke="#999" stroke-width="0.9" fill="none"/>
</g>
<g class="p" style="stroke:#6e6e6e;stroke-width:1.1">
<!-- hose 16 -->
<path class="pw" style="stroke:#6e6e6e" d="M597.4,242.4 C599,239 603.5,238.5 604.8,240 L610.6,250.7 C612,254 612.6,256.5 612.3,259 C612,264 611,267 609,269.8 C607,273 604.5,275.5 601.5,277.3 L586.6,286.4 C585,287.3 583.3,286.5 582.6,284.5 C581.8,282.5 581.8,280 582.4,279 L594.9,272.3 C596.5,271 598,270 599,268.2 C601,265.5 602.3,262.5 602.3,259.9 C602.3,257.5 601.5,255.5 600.7,253.2 Z"/>
<ellipse cx="584.6" cy="282.8" rx="1.9" ry="4" transform="rotate(-28 584.6 282.8)"/>
<path d="M600.2,250.7 L609,247.5 M601.5,266.5 L609,269.8 M595.7,273.2 L599,279"/>
</g>
<g class="p">
<!-- clamp 17 -->
<path d="M570.5,283 L577.5,280 L580.7,288 L574,291.3 Z" fill="#444" stroke="#222" stroke-width="1.2"/>
<path d="M573.5,283.5 L576,289.5 M576,282.5 L578.5,288" stroke="#ccc" stroke-width="0.9"/>
<!-- screws 18 -->
<circle cx="596.6" cy="313.6" r="2.4" fill="#2a2a2a" stroke="none"/>
<circle cx="590.7" cy="321.7" r="2.4" fill="#2a2a2a" stroke="none"/>
<!-- bracket 19 -->
<path class="pw" d="M618.9,316.6 L621,320 L623.3,324.3 L625.2,331.9 L613.5,335 L610.6,337.6 L607.4,335 L611,332.5 L613.1,326.8 L616,323.5 Z" style="stroke-width:1.1"/>
<path d="M616.5,321.5 C617.5,318.5 620.5,318.5 621.3,321.5 L621.3,323.5 L616.5,324 Z" fill="#555" stroke="#222" stroke-width="1"/>
<path d="M613.1,326.8 L623.3,324.3 M611,332.5 L614,333.5" style="stroke-width:1"/>
<circle cx="610.4" cy="335.3" r="1.2" style="stroke-width:0.8"/>
<!-- bolts 21 bottom -->
<circle cx="638.6" cy="450.4" r="2.9" fill="#222" stroke="none"/><path d="M634,447 L637,449.3" stroke="#999" stroke-width="2"/>
<circle cx="638.4" cy="486" r="2.9" fill="#222" stroke="none"/><path d="M633.8,482.8 L636.8,485" stroke="#999" stroke-width="2"/>
<circle cx="574.8" cy="495.2" r="2.9" fill="#222" stroke="none"/><path d="M570.3,491.8 L573,494" stroke="#aaa" stroke-width="2.2"/>
</g>

<!-- ===== 35 fan ===== -->
<g fill="none" stroke-linecap="round">
<path d="M169.3,304.0 L168.4,306.8 L167.3,309.6 L165.9,312.3 L164.4,314.8 L162.6,317.1 L160.6,319.2 L158.5,321.1 L156.2,322.7 L153.8,324.1 L151.3,325.2 L148.7,325.9 L146.1,326.4 L143.5,326.6 L141.0,326.4 L138.4,325.9 L136.0,325.2 L133.6,324.1 L131.4,322.7 L129.3,321.1 L127.4,319.2 L125.7,317.1 L124.3,314.8 L123.0,312.3 L122.0,309.6 L121.2,306.8 L120.8,303.9 L120.5,301.0 L120.6,298.0 L120.9,295.0 L121.5,292.0 L122.4,289.2 L123.5,286.4 L124.9,283.7 L126.4,281.2 L128.2,278.9 L130.2,276.8 L132.3,274.9 L134.6,273.3 L137.0,271.9 L139.5,270.8 L142.1,270.1 L144.7,269.6 L147.3,269.4 L149.8,269.6 L152.4,270.1 L154.8,270.8 L157.2,271.9 L159.4,273.3 L161.5,274.9 L163.4,276.8 L165.1,278.9 L166.5,281.2 L167.8,283.7 L168.8,286.4 L169.6,289.2 L170.0,292.1 L170.3,295.0 L170.2,298.0 L169.9,301.0 L169.3,304.0 Z" fill="#fff" stroke="none"/>
<path d="M144.8,323.9 L143.1,324.0 L141.4,323.9 L139.8,323.6 L138.1,323.2 L136.6,322.6 L135.0,321.9 L133.5,321.0 L132.1,320.1 L130.8,319.0 L129.6,317.7 L128.4,316.4 L127.4,314.9 L126.4,313.4 L125.6,311.7 L124.9,310.0 L124.3,308.2 L123.8,306.4 L123.5,304.5 L123.2,302.5 L123.1,300.6 L123.2,298.6 L123.3,296.6 L123.6,294.6 L124.1,292.7 L124.6,290.8 L125.3,288.9 L126.1,287.0 L126.9,285.3 L128.0,283.6 L129.1,282.0 L130.3,280.5 L131.5,279.1 L132.9,277.8 L134.4,276.6 L135.9,275.5 L137.4,274.6 L139.0,273.8 L140.7,273.2 L142.4,272.6 L144.1,272.3" stroke="#2c2c2c" stroke-width="4.2" stroke-linecap="butt"/>
<path d="M147.1,314.6 L145.8,314.8 L144.6,314.8 L143.3,314.7 L142.1,314.5 L140.9,314.2 L139.7,313.7 L138.6,313.2 L137.5,312.6 L136.5,311.8 L135.5,311.0 L134.6,310.1 L133.8,309.1 L133.1,308.0 L132.4,306.9 L131.8,305.7 L131.3,304.4 L131.0,303.1 L130.7,301.8 L130.5,300.4 L130.4,299.0 L130.4,297.6 L130.5,296.2 L130.7,294.8 L131.0,293.5 L131.4,292.1 L131.9,290.8 L132.5,289.6 L133.2,288.4 L134.0,287.2 L134.8,286.1 L135.7,285.1 L136.7,284.2 L137.8,283.3 L138.8,282.6 L140.0,281.9 L141.2,281.4 L142.4,280.9 L143.6,280.6 L144.8,280.3 L146.1,280.2" stroke="#2c2c2c" stroke-width="3" stroke-linecap="butt"/>
<path d="M158.9,302.7 L169.5,301.6" stroke="#222" stroke-width="2"/>
<path d="M157.5,305.7 L167.9,307.4" stroke="#222" stroke-width="2"/>
<path d="M155.6,308.4 L165.3,312.7" stroke="#222" stroke-width="2"/>
<path d="M153.2,310.5 L161.9,317.4" stroke="#222" stroke-width="2"/>
<path d="M150.5,312.1 L157.8,321.3" stroke="#222" stroke-width="2"/>
<path d="M147.7,313.1 L153.1,324.1" stroke="#222" stroke-width="2"/>
<path d="M144.7,313.4 L148.1,325.8" stroke="#222" stroke-width="2"/>
<path d="M141.8,313.0 L143.0,326.3" stroke="#222" stroke-width="2"/>
<path d="M139.1,311.9 L137.9,325.5" stroke="#222" stroke-width="2"/>
<path d="M136.7,310.2 L133.2,323.5" stroke="#222" stroke-width="2"/>
<path d="M134.7,307.9 L129.1,320.5" stroke="#222" stroke-width="2"/>
<path d="M133.1,305.2 L125.6,316.4" stroke="#222" stroke-width="2"/>
<path d="M132.1,302.1 L123.0,311.5" stroke="#222" stroke-width="2"/>
<path d="M131.8,298.8 L121.4,306.1" stroke="#222" stroke-width="2"/>
<path d="M132.0,295.5 L120.8,300.3" stroke="#222" stroke-width="2"/>
<path d="M132.9,292.3 L121.3,294.4" stroke="#222" stroke-width="2"/>
<path d="M134.3,289.3 L122.9,288.6" stroke="#222" stroke-width="2"/>
<path d="M136.2,286.6 L125.5,283.3" stroke="#222" stroke-width="2"/>
<path d="M138.6,284.5 L128.9,278.6" stroke="#222" stroke-width="2"/>
<path d="M141.3,282.9 L133.0,274.7" stroke="#222" stroke-width="2"/>
<path d="M144.1,281.9 L137.7,271.9" stroke="#222" stroke-width="2"/>
<path d="M147.1,281.6 L142.7,270.2" stroke="#222" stroke-width="2"/>
<path d="M150.0,282.0 L147.8,269.7" stroke="#222" stroke-width="2"/>
<path d="M152.7,283.1 L152.9,270.5" stroke="#222" stroke-width="2"/>
<path d="M155.1,284.8 L157.6,272.5" stroke="#222" stroke-width="2"/>
<path d="M157.1,287.1 L161.7,275.5" stroke="#222" stroke-width="2"/>
<path d="M158.7,289.8 L165.2,279.6" stroke="#222" stroke-width="2"/>
<path d="M159.7,292.9 L167.8,284.5" stroke="#222" stroke-width="2"/>
<path d="M160.0,296.2 L169.4,289.9" stroke="#222" stroke-width="2"/>
<path d="M159.8,299.5 L170.0,295.7" stroke="#222" stroke-width="2"/>
<path d="M143.2,315.9 L144.5,323.3" stroke="#fff" stroke-width="1.7"/>
<path d="M139.8,315.1 L140.0,323.0" stroke="#fff" stroke-width="1.7"/>
<path d="M136.7,313.5 L135.8,321.6" stroke="#fff" stroke-width="1.7"/>
<path d="M134.0,311.2 L132.0,319.2" stroke="#fff" stroke-width="1.7"/>
<path d="M131.8,308.3 L128.7,315.8" stroke="#fff" stroke-width="1.7"/>
<path d="M130.3,304.9 L126.2,311.6" stroke="#fff" stroke-width="1.7"/>
<path d="M129.4,301.3 L124.5,306.9" stroke="#fff" stroke-width="1.7"/>
<path d="M129.2,297.4 L123.8,301.8" stroke="#fff" stroke-width="1.7"/>
<path d="M129.8,293.6 L124.0,296.5" stroke="#fff" stroke-width="1.7"/>
<path d="M131.0,289.9 L125.1,291.2" stroke="#fff" stroke-width="1.7"/>
<path d="M133.0,286.6 L127.1,286.3" stroke="#fff" stroke-width="1.7"/>
<path d="M135.5,283.7 L129.9,281.9" stroke="#fff" stroke-width="1.7"/>
<path d="M138.4,281.4 L133.4,278.1" stroke="#fff" stroke-width="1.7"/>
<path d="M141.7,279.9 L137.4,275.3" stroke="#fff" stroke-width="1.7"/>
<path d="M145.1,279.1 L141.8,273.4" stroke="#fff" stroke-width="1.7"/>
<path d="M151.3,325.2 L148.7,325.9 L146.1,326.4 L143.5,326.6 L141.0,326.4 L138.4,325.9 L136.0,325.2 L133.6,324.1 L131.4,322.7 L129.3,321.1 L127.4,319.2 L125.7,317.1 L124.3,314.8 L123.0,312.3 L122.0,309.6 L121.2,306.8 L120.8,303.9 L120.5,301.0 L120.6,298.0 L120.9,295.0 L121.5,292.0 L122.4,289.2 L123.5,286.4 L124.9,283.7 L126.4,281.2 L128.2,278.9 L130.2,276.8 L132.3,274.9 L134.6,273.3 L137.0,271.9 L139.5,270.8 L142.1,270.1 L144.7,269.6 L147.3,269.4 L149.8,269.6 L152.4,270.1 L154.8,270.8 L157.2,271.9 L159.4,273.3 L161.5,274.9 L163.4,276.8" stroke="#1e1e1e" stroke-width="1.8"/>
<path d="M158.7,300.7 L158.1,302.5 L157.4,304.3 L156.5,305.9 L155.4,307.4 L154.1,308.8 L152.7,309.9 L151.2,310.9 L149.7,311.7 L148.0,312.2 L146.4,312.5 L144.7,312.6 L143.0,312.4 L141.4,312.0 L139.9,311.4 L138.4,310.5 L137.1,309.5 L135.9,308.2 L134.9,306.8 L134.0,305.3 L133.4,303.6 L132.9,301.8 L132.6,300.0 L132.6,298.1 L132.7,296.2 L133.1,294.3 L133.7,292.5 L134.4,290.7 L135.3,289.1 L136.4,287.6 L137.7,286.2 L139.1,285.1 L140.6,284.1 L142.1,283.3 L143.8,282.8 L145.4,282.5 L147.1,282.4 L148.8,282.6 L150.4,283.0 L151.9,283.6 L153.4,284.5 L154.7,285.5 L155.9,286.8 L156.9,288.2 L157.8,289.7 L158.4,291.4 L158.9,293.2 L159.2,295.0 L159.2,296.9 L159.1,298.8 L158.7,300.7 Z" stroke="#1e1e1e" stroke-width="1.5"/>
<circle cx="148.3" cy="301" r="1.5" fill="#777"/>
<path d="M127.5,296.5 L141,291.8 L142.8,294.2 L129.5,299.5 Z" fill="#fff" stroke="#222" stroke-width="1.1"/>
<path d="M139,291 C142,290.5 145,292.5 146,296 L143,297" stroke="#1e1e1e" stroke-width="1.7"/>
<path d="M154,284.5 L160.5,281.5 L161.5,289.5 L157.5,295.5 L153.5,292.5 Z" fill="#777" stroke="#2a2a2a" stroke-width="1"/>
<path d="M158,283 L159.5,293" stroke="#eee" stroke-width="1.4"/>
<path d="M142.5,309.5 L152,310.5 L155.5,316 L146,316.5 Z" fill="#3a3a3a" stroke="#222" stroke-width="0.9"/>
<path d="M141.5,308.5 C143.5,306 147,306 149,308.5" stroke="#1e1e1e" stroke-width="1.5"/>
<path d="M133,304 C135,308 138,311 142,312.5" stroke="#333" stroke-width="1"/>
</g>
<!-- ===== 23 radiator ===== -->
<g>
<path d="M335.8,249.2 L394.5,234.6 L394.5,288.0 L335.8,300.0 Z" fill="#8c8c8c" stroke="#2a2a2a" stroke-width="1.2"/>
<path d="M339.0,248.9 V298.8" stroke="#5e5e5e" stroke-width="1.3"/>
<path d="M340.7,248.8 V298.2" stroke="#a6a6a6" stroke-width="0.9"/>
<path d="M342.6,248.0 V298.1" stroke="#5e5e5e" stroke-width="1.3"/>
<path d="M344.2,247.9 V297.5" stroke="#a6a6a6" stroke-width="0.9"/>
<path d="M346.1,247.1 V297.4" stroke="#5e5e5e" stroke-width="1.3"/>
<path d="M347.8,247.0 V296.7" stroke="#a6a6a6" stroke-width="0.9"/>
<path d="M349.7,246.3 V296.7" stroke="#5e5e5e" stroke-width="1.3"/>
<path d="M351.4,246.1 V296.0" stroke="#a6a6a6" stroke-width="0.9"/>
<path d="M353.2,245.4 V295.9" stroke="#5e5e5e" stroke-width="1.3"/>
<path d="M354.9,245.2 V295.3" stroke="#a6a6a6" stroke-width="0.9"/>
<path d="M356.8,244.5 V295.2" stroke="#5e5e5e" stroke-width="1.3"/>
<path d="M358.5,244.4 V294.6" stroke="#a6a6a6" stroke-width="0.9"/>
<path d="M360.3,243.6 V294.5" stroke="#5e5e5e" stroke-width="1.3"/>
<path d="M362.0,243.5 V293.8" stroke="#a6a6a6" stroke-width="0.9"/>
<path d="M363.9,242.7 V293.8" stroke="#5e5e5e" stroke-width="1.3"/>
<path d="M365.6,242.6 V293.1" stroke="#a6a6a6" stroke-width="0.9"/>
<path d="M367.4,241.8 V293.0" stroke="#5e5e5e" stroke-width="1.3"/>
<path d="M369.1,241.7 V292.4" stroke="#a6a6a6" stroke-width="0.9"/>
<path d="M371.0,241.0 V292.3" stroke="#5e5e5e" stroke-width="1.3"/>
<path d="M372.7,240.8 V291.7" stroke="#a6a6a6" stroke-width="0.9"/>
<path d="M374.5,240.1 V291.6" stroke="#5e5e5e" stroke-width="1.3"/>
<path d="M376.2,240.0 V290.9" stroke="#a6a6a6" stroke-width="0.9"/>
<path d="M378.1,239.2 V290.9" stroke="#5e5e5e" stroke-width="1.3"/>
<path d="M379.8,239.1 V290.2" stroke="#a6a6a6" stroke-width="0.9"/>
<path d="M381.6,238.3 V290.1" stroke="#5e5e5e" stroke-width="1.3"/>
<path d="M383.3,238.2 V289.5" stroke="#a6a6a6" stroke-width="0.9"/>
<path d="M385.2,237.4 V289.4" stroke="#5e5e5e" stroke-width="1.3"/>
<path d="M386.9,237.3 V288.8" stroke="#a6a6a6" stroke-width="0.9"/>
<path d="M388.7,236.5 V288.7" stroke="#5e5e5e" stroke-width="1.3"/>
<path d="M390.4,236.4 V288.0" stroke="#a6a6a6" stroke-width="0.9"/>
<path d="M392.3,235.7 V288.0" stroke="#5e5e5e" stroke-width="1.3"/>
<path d="M394.0,235.5 V287.3" stroke="#a6a6a6" stroke-width="0.9"/>
<path d="M340.9,248.9 V298.0" stroke="#e4e4e4" stroke-width="1.7"/>
<path d="M349.8,246.7 V296.1" stroke="#e4e4e4" stroke-width="1.7"/>
<path d="M335.8,248.2 V301.0" stroke="#222" stroke-width="1.6"/>
<path d="M337.4,249.8 V298.7" stroke="#d8d8d8" stroke-width="1.2"/>
<path d="M394.5,234.6 V288.0" stroke="#333" stroke-width="1.2"/>
<path d="M396.3,233.1 V286.0" stroke="#555" stroke-width="0.9"/>
<path d="M335.8,245.0 L396.1,230.2 L396.1,235.2 L335.8,250.0 Z" fill="#e8e8e8" stroke="#222" stroke-width="1.1"/>
<path d="M336.8,247.0 L395.5,232.2" stroke="#666" stroke-width="1.3"/>
<path d="M335.8,299.5 L394.5,287.5 L395.0,290.8 L336.3,303.0 Z" fill="#ddd" stroke="#1e1e1e" stroke-width="1.2"/>
<path d="M337.8,300.2 L394.5,288.0" stroke="#222" stroke-width="1.6"/>
<g class="p" style="stroke-width:1.2">
<path class="pw" d="M336,244.2 L336.6,240.6 L339,232 L342,223 L345.5,216 L349.6,211.9 L368.8,210.5 L372.2,207.5 L378,209.5 L385.2,215.3 L391,221 L396.1,226.9 L396.1,229.9 L336,244.8 Z" style="stroke-width:1.3"/>
<path d="M345.5,216 L341.5,224 L339,231 L337.5,238 L336.8,243.5" style="stroke-width:2.8;stroke:#1a1a1a"/>
<path d="M342.8,217.6 L352.6,222.8 L350.5,227 L340.8,222.2 Z" fill="#fff" style="stroke-width:1.4;stroke:#1a1a1a"/>
<path d="M340.5,226 L345,229 L349.5,227.5 L352,231 C353,235 351.5,239 348.5,241" style="stroke-width:2.4;stroke:#1a1a1a"/>
<path d="M342,230.5 L345.5,233.5 C346.5,236 345.5,239 343.5,241.5" style="stroke-width:1.3;stroke:#333"/>
<path d="M340,233 C338.5,236 338.5,240 340,243" style="stroke-width:1.6;stroke:#1a1a1a"/>
<path d="M336.3,240 L339,241.5 L338.3,246.5 L336,247.5 Z" fill="#111" stroke="#111" stroke-width="1.2"/>
<path d="M353,223 L357,218 L362,216.5 M351.5,231 L355,226 L359,238.5 M355,226 L358,214" style="stroke-width:1;stroke:#444"/>
<path d="M361,233.8 L373.5,217.3 M364.5,221.5 L374.5,230.5" stroke="#1c1c1c" stroke-width="3" stroke-linecap="round"/>
<path d="M361,233.8 L373.5,217.3 M364.5,221.5 L374.5,230.5" stroke="#aaa" stroke-width="0.8" stroke-linecap="round"/>
<path d="M377,211 L378,221 L379.5,229 M379.5,212.5 L380.5,222" style="stroke-width:1.6;stroke:#1a1a1a"/>
<path d="M381,226 L383,219 L386.5,215.5 L389.5,220 L392,225.5 L387,228 L383.5,227.5 Z" fill="#fff" style="stroke-width:1.5;stroke:#1a1a1a"/>
<path d="M385.5,217.5 L388.5,222.5 L390,226 L386,224 Z" fill="#333" stroke="#222" stroke-width="0.8"/>
<path d="M383,219 L381.5,214.5 L378,212" style="stroke-width:1.4"/>
<path class="pw" d="M349.6,206 L349.8,211.5 L354,214.5 L362,214.8 L367,213 L368.8,210.5 L369,205.5" style="stroke-width:1.3"/>
<path d="M350.5,209.5 C355,213 363,213 368,208.5" style="stroke-width:1.6;stroke:#222"/>
<path d="M352,213 C356,216 363,216 367,213" style="stroke-width:1;stroke:#555"/>
<circle cx="350.3" cy="209.8" r="1.4" fill="#111" stroke="none"/><circle cx="367.6" cy="207.8" r="1.4" fill="#111" stroke="none"/>
<path class="pw" d="M343.5,201.5 L349.5,197.6 L364,197.3 L370.8,200.8 L371,204.5 L365,207.6 L350,207.8 L343.8,204.8 Z" style="stroke-width:1.6;stroke:#1e1e1e"/>
<ellipse cx="357" cy="201.7" rx="5.8" ry="2.8" fill="#222" stroke="#111"/>
<ellipse cx="357" cy="201.2" rx="3" ry="1.2" fill="#555" stroke="none"/>
<path d="M344,203.5 L350,206.2 L365,206 L371,203" style="stroke-width:0.9;stroke:#555"/>
<path class="pw" d="M369.5,205 L376,202 L381,207.5 L374,210 Z"/>
<ellipse cx="380" cy="205" rx="4.2" ry="3.6" fill="#fff" stroke="#222" stroke-width="1.4" transform="rotate(20 380 205)"/>
<ellipse cx="380.3" cy="205.2" rx="2.1" ry="1.9" fill="none" stroke="#555" stroke-width="0.8"/>
<path d="M372,203.5 C373.5,205 373.5,208 372.5,209.5" style="stroke-width:0.9;stroke:#555"/>
</g>
<g class="p" style="stroke-width:1.2">
<path class="pw" d="M336.3,303 L337,306 L340,309.5 L346,310.5 L350,309 L353,313 L355.5,317 L359,317.5 L361,314 L362,311 L366,312 L371,311 L373,307 L378,305.5 L385,303.5 L392,300 L397,296 L398.5,291 L395,288.5 L394.5,291 L336.3,303 Z"/>
<path d="M337,305 L341,309.5 L346,309.5 L343,304" fill="#222" stroke="#111"/>
<circle cx="367.3" cy="307.8" r="3.1" fill="#fff" stroke="#1a1a1a" stroke-width="1.5"/><circle cx="367.3" cy="307.8" r="1.2" fill="#555" stroke="none"/>
<path d="M350,306 L360,304 L363,308 M372,303.5 L390,299.5 M375,306 L384,301.5" stroke-width="1"/>
<path d="M373,304 L380,302.5 L378,305.5 Z M383,301.5 L389,300 L386,303 Z" fill="#333" stroke="none"/>
<path d="M352,312 C354,310 357,310 359,312" stroke-width="0.9"/>
<path d="M394.5,288.5 L399,290" stroke-width="1.6"/>
</g>
</g>
<!-- ===== 20 cover ===== -->
<g class="p" style="stroke:#262626;stroke-width:1.35">
<path class="pw" style="stroke:#1e1e1e;stroke-width:1.6" d="M517.6,341.6 L539.4,336.6 L547,343.7 L571.6,369.6 L576.4,382 L585.7,419.9 L586.7,431.6 L580.9,443.3 L571.1,453 L551.6,459.9 L532.1,463.8 L520.4,460.9 L508.7,448.2 L504,448.5 L499.5,443 L499.2,433 L503,427 L506.7,424.8 L512,422.5 L516.5,419.9 L510.6,402.3 L506,397 L503.9,384 L507.5,377.5 L511.4,372.4 Z"/>
<path d="M517.6,341.6 L527.8,349.8 L545.6,344.4 M527.8,349.8 L525.8,382 M531.9,356 L544.2,350.5 L547,343.7 M531.9,356 L527.8,384.7 M527.8,349.8 L531.9,356 M544.2,350.5 L570.2,375.1 L574.5,382 M539.4,336.6 L545.6,344.4 M529.5,353 L544.8,347.5" />
<path d="M511.4,372.4 L523.5,381.5 M507.5,377.5 L520,389 M503.9,384 L515.5,396.5 M506,397 L512,402.5 M523.5,381.5 L515.5,396.5 L516.5,402 M568,371 L571,382" />
<path d="M503,427 C500,431 500,440 504,446 M506.7,424.8 L512,431 M516.5,419.9 L521,425 L520.4,432 M512,431 C514,435 514.5,441 512.5,446.5 L508.7,448.2" />
<ellipse cx="511.3" cy="438.5" rx="2.8" ry="3.2" style="stroke-width:1.2"/><ellipse cx="510.6" cy="438.8" rx="1.3" ry="1.6" style="stroke-width:0.8"/>
<path d="M521.5,392 C527,379 540,372.5 553,373.5 C563,374.5 571,378 576.4,382" style="stroke-width:1.2"/>
<path d="M525.5,394.5 C531,383 542,377 553.5,377.5 C562,378 569,381 575,385.5" style="stroke-width:1"/>
<path d="M529.5,397.5 C534.5,387.5 544,382 554,382.3 C561,382.6 568,385 574,389.5" style="stroke-width:1"/>
<path d="M554,373.5 L554.5,384 M541.5,376 L544,386 M566,377.5 L564.5,386" style="stroke-width:0.9"/>
<path d="M521.5,392 C518,402 519,415 523,427 C526,437 530,447 536,455 C541,459 548,458.5 555,457 C563,455 570,451 575.5,446" style="stroke-width:1.2"/>
<path d="M525.5,394.5 C522.5,404 523.5,415 527,426 C530,436 534,445 539,452.5" style="stroke-width:1"/>
<path d="M516.5,419.9 L523,422 M510.6,402.3 L519.5,405 M520.4,460.9 L527,452 M532.1,463.8 L537,456" style="stroke-width:0.9"/>
<path d="M512,422.5 C516,430 520,441 524,450 C527,456 531,460 536,461.5" style="stroke-width:0.9"/>
<path d="M534.8,391 L546,386.5 L557.5,384.7 L567,386 L574.7,389.4 L580,403 L584,419 L583.8,428 L582.5,434.7 L578,442.5 L571.6,448.75 L560,451.5 L546.6,453.4 L540,451.5 L535.6,447.2 L531,435 L528,426 L527.5,417.5 L532.5,411 L536,402 Z" fill="#363636" stroke="#2a2a2a" stroke-width="1"/>
<rect x="539.6" y="395.8" width="4.7" height="15.6" rx="1.9" fill="#d8d8d8" stroke="none" transform="rotate(3 542.0 404.9)"/>
<rect x="546.4" y="394.2" width="4.7" height="15.6" rx="1.9" fill="#f8f8f8" stroke="none" transform="rotate(3 548.8 403.3)"/>
<rect x="552.1" y="392.5" width="4.7" height="15.6" rx="1.9" fill="#f8f8f8" stroke="none" transform="rotate(3 554.5 401.6)"/>
<rect x="557.9" y="390.5" width="4.7" height="15.6" rx="1.9" fill="#f8f8f8" stroke="none" transform="rotate(3 560.2 399.6)"/>
<rect x="563.6" y="388.8" width="4.7" height="15.6" rx="1.9" fill="#f8f8f8" stroke="none" transform="rotate(3 566.0 397.9)"/>
<rect x="568.9" y="388.6" width="4.7" height="15.6" rx="1.9" fill="#f8f8f8" stroke="none" transform="rotate(3 571.2 397.7)"/>
<rect x="534.2" y="415.0" width="4.7" height="15.2" rx="1.9" fill="#d0d0d0" stroke="none" transform="rotate(3 536.6 423.3)"/>
<rect x="541.0" y="413.4" width="4.7" height="15.2" rx="1.9" fill="#f8f8f8" stroke="none" transform="rotate(3 543.4 421.7)"/>
<rect x="547.4" y="411.8" width="4.7" height="15.2" rx="1.9" fill="#f8f8f8" stroke="none" transform="rotate(3 549.7 420.1)"/>
<rect x="553.2" y="409.6" width="4.7" height="15.2" rx="1.9" fill="#f8f8f8" stroke="none" transform="rotate(3 555.6 417.9)"/>
<rect x="559.0" y="408.0" width="4.7" height="15.2" rx="1.9" fill="#f8f8f8" stroke="none" transform="rotate(3 561.4 416.3)"/>
<rect x="564.5" y="406.4" width="4.7" height="15.2" rx="1.9" fill="#f8f8f8" stroke="none" transform="rotate(3 566.9 414.7)"/>
<rect x="537.1" y="433.6" width="4.7" height="15.2" rx="1.9" fill="#f8f8f8" stroke="none" transform="rotate(3 539.5 441.3)"/>
<rect x="542.9" y="432.0" width="4.7" height="15.2" rx="1.9" fill="#f8f8f8" stroke="none" transform="rotate(3 545.3 439.7)"/>
<rect x="548.5" y="430.5" width="4.7" height="15.2" rx="1.9" fill="#f8f8f8" stroke="none" transform="rotate(3 550.9 438.2)"/>
<rect x="554.4" y="428.8" width="4.7" height="15.2" rx="1.9" fill="#f8f8f8" stroke="none" transform="rotate(3 556.7 436.5)"/>
<rect x="560.1" y="426.6" width="4.7" height="15.2" rx="1.9" fill="#f8f8f8" stroke="none" transform="rotate(3 562.5 434.3)"/>
<rect x="566.0" y="425.0" width="4.7" height="15.2" rx="1.9" fill="#f8f8f8" stroke="none" transform="rotate(3 568.4 432.7)"/>
<rect x="573.9" y="392" width="2.6" height="4.6" rx="1.2" fill="#eee" stroke="none"/>
<rect x="572.2" y="426" width="2.6" height="6.5" rx="1.2" fill="#bbb" stroke="none" transform="rotate(5 573 429)"/>
<path d="M576.2,432.5 L579.5,429" stroke="#f0f0f0" stroke-width="2.4" stroke-linecap="round"/>
<path d="M531.8,411 L531.3,429" stroke="#aaa" stroke-width="2.6" stroke-linecap="round"/>
<rect x="532.5" y="436" width="3" height="9" rx="1.4" fill="#bbb" stroke="none" transform="rotate(5 534 440)"/>
<circle cx="551.4" cy="388.2" r="1.5" fill="#f2f2f2" stroke="none"/>
<circle cx="557.2" cy="387.0" r="1.5" fill="#f2f2f2" stroke="none"/>
<circle cx="562.9" cy="388.6" r="1.5" fill="#f2f2f2" stroke="none"/>
<circle cx="545.7" cy="391.4" r="1.5" fill="#f2f2f2" stroke="none"/>
<circle cx="551.4" cy="392.7" r="1.5" fill="#f2f2f2" stroke="none"/>
<circle cx="557.2" cy="391.0" r="1.5" fill="#f2f2f2" stroke="none"/>
<circle cx="546.3" cy="412.0" r="1.5" fill="#f2f2f2" stroke="none"/>
<circle cx="552.0" cy="410.3" r="1.5" fill="#f2f2f2" stroke="none"/>
<circle cx="557.8" cy="408.3" r="1.5" fill="#f2f2f2" stroke="none"/>
<circle cx="563.6" cy="406.5" r="1.5" fill="#f2f2f2" stroke="none"/>
<circle cx="569.0" cy="405.0" r="1.5" fill="#f2f2f2" stroke="none"/>
<circle cx="540.0" cy="431.5" r="1.5" fill="#f2f2f2" stroke="none"/>
<circle cx="546.5" cy="429.8" r="1.5" fill="#f2f2f2" stroke="none"/>
<circle cx="552.5" cy="428.0" r="1.5" fill="#f2f2f2" stroke="none"/>
<circle cx="558.5" cy="426.3" r="1.5" fill="#f2f2f2" stroke="none"/>
<circle cx="564.0" cy="424.6" r="1.5" fill="#f2f2f2" stroke="none"/>
<circle cx="569.5" cy="423.0" r="1.5" fill="#f2f2f2" stroke="none"/>
<circle cx="542.5" cy="449.5" r="1.5" fill="#f2f2f2" stroke="none"/>
<circle cx="548.5" cy="448.0" r="1.5" fill="#f2f2f2" stroke="none"/>
<circle cx="554.0" cy="446.3" r="1.5" fill="#f2f2f2" stroke="none"/>
<circle cx="560.0" cy="444.5" r="1.5" fill="#f2f2f2" stroke="none"/>
<circle cx="565.5" cy="443.0" r="1.5" fill="#f2f2f2" stroke="none"/>
<circle cx="571.0" cy="441.0" r="1.5" fill="#f2f2f2" stroke="none"/>
<path d="M577,396 C580,408 581.5,420 581,432" stroke="#888" stroke-width="0.9" fill="none"/>
<path d="M578.5,428 L580.5,433 L578,437" stroke="#ddd" stroke-width="1" fill="none"/>
</g>
<g>
<text transform="translate(449.2,27.3) scale(0.85,1)">28</text>
<text transform="translate(417.2,58.3) scale(0.85,1)">27</text>
<text transform="translate(469,95.8) scale(0.85,1)">26</text>
<text transform="translate(462,125) scale(0.85,1)">25</text>
<text transform="translate(435,145) scale(0.85,1)">21</text>
<text transform="translate(476,143.5) scale(0.85,1)">21</text>
<text transform="translate(432,180) scale(0.85,1)">24</text>
<text transform="translate(372,196) scale(0.85,1)">23</text>
<text transform="translate(428.8,264.5) scale(0.85,1)">22</text>
<text transform="translate(459,260) scale(0.85,1)">22</text>
<text transform="translate(414,342) scale(0.85,1)">22</text>
<text transform="translate(448,337) scale(0.85,1)">22</text>
<text transform="translate(481,193.5) scale(0.85,1)">1</text>
<text transform="translate(498.5,193.5) scale(0.85,1)">1</text>
<text transform="translate(529.5,124.5) scale(0.85,1)">12</text>
<text transform="translate(549,150) scale(0.85,1)">13</text>
<text transform="translate(533.5,214) scale(0.85,1)">14</text>
<text transform="translate(602,217.5) scale(0.85,1)">7</text>
<text transform="translate(575,257) scale(0.85,1)">15</text>
<text transform="translate(563,277) scale(0.85,1)">17</text>
<text transform="translate(616,282) scale(0.85,1)">16</text>
<text transform="translate(608,316) scale(0.85,1)">18</text>
<text transform="translate(579,347) scale(0.85,1)">18</text>
<text transform="translate(633,344) scale(0.85,1)">19</text>
<text transform="translate(588,394) scale(0.85,1)">20</text>
<text transform="translate(655,464) scale(0.85,1)">21</text>
<text transform="translate(649.5,495.5) scale(0.85,1)">21</text>
<text transform="translate(587,505.5) scale(0.85,1)">21</text>
<text transform="translate(593.6,46.6) scale(0.85,1)">1</text>
<text transform="translate(609,46.6) scale(0.85,1)">1</text>
<text transform="translate(580,106) scale(0.85,1)">2</text>
<text transform="translate(607,93) scale(0.85,1)">3</text>
<text transform="translate(637,94) scale(0.85,1)">4</text>
<text transform="translate(663,87) scale(0.85,1)">5</text>
<text transform="translate(594,137) scale(0.85,1)">6</text>
<text transform="translate(638.5,147) scale(0.85,1)">7</text>
<text transform="translate(663,190) scale(0.85,1)">8</text>
<text transform="translate(763,161) scale(0.85,1)">4</text>
<text transform="translate(770,186) scale(0.85,1)">9</text>
<text transform="translate(794,208) scale(0.85,1)">10</text>
<text transform="translate(776,227) scale(0.85,1)">10</text>
<text transform="translate(794,249) scale(0.85,1)">10</text>
<text transform="translate(691,229) scale(0.85,1)">7</text>
<text transform="translate(726,257) scale(0.85,1)">7</text>
<text transform="translate(698,282) scale(0.85,1)">11</text>
<text transform="translate(174,68) scale(0.85,1)">32</text>
<text transform="translate(175,115) scale(0.85,1)">32</text>
<text transform="translate(134,133) scale(0.85,1)">32</text>
<text transform="translate(231,109) scale(0.85,1)">31</text>
<text transform="translate(303,144) scale(0.85,1)">30</text>
<text transform="translate(323,168) scale(0.85,1)">29</text>
<text transform="translate(280,238) scale(0.85,1)">29</text>
<text transform="translate(253,263) scale(0.85,1)">29</text>
<text transform="translate(182,266) scale(0.85,1)">33</text>
<text transform="translate(176,301) scale(0.85,1)">35</text>
<text transform="translate(215,324) scale(0.85,1)">34</text>
<text transform="translate(214,359) scale(0.85,1)">34</text>
<text transform="translate(170,370) scale(0.85,1)">34</text>
</g>
</g></svg></body></html>
